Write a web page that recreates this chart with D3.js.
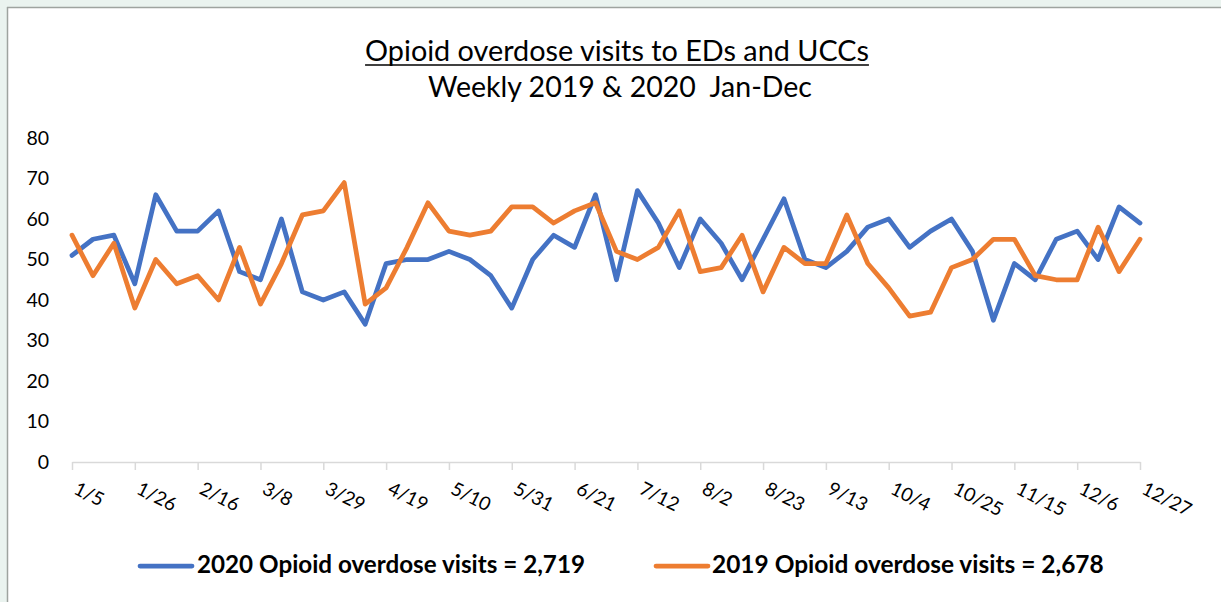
<!DOCTYPE html>
<html>
<head>
<meta charset="utf-8">
<script src="https://cdn.jsdelivr.net/npm/d3@7/dist/d3.min.js"></script>
<style>
  html, body { margin: 0; padding: 0; background: #eaf3ef; }
  svg { display: block; }
  text { font-family: Lato, "Open Sans", sans-serif; fill: #000; }
</style>
</head>
<body>
<svg id="chart" width="1221" height="602"></svg>
<script>
// ---- data ----
const weeks = ["1/5","1/12","1/19","1/26","2/2","2/9","2/16","2/23","3/1","3/8","3/15","3/22","3/29","4/5","4/12","4/19","4/26","5/3","5/10","5/17","5/24","5/31","6/7","6/14","6/21","6/28","7/5","7/12","7/19","7/26","8/2","8/9","8/16","8/23","8/30","9/6","9/13","9/20","9/27","10/4","10/11","10/18","10/25","11/1","11/8","11/15","11/22","11/29","12/6","12/13","12/20","12/27"];
const visits2020 = [51,55,56,44,66,57,57,62,47,45,60,42,40,42,34,49,50,50,52,50,46,38,50,56,53,66,45,67,59,48,60,54,45,55,65,50,48,52,58,60,53,57,60,52,35,49,45,55,57,50,63,59];
const visits2019 = [56,46,54,38,50,44,46,40,53,39,49,61,62,69,39,43,53,64,57,56,57,63,63,59,62,64,52,50,53,62,47,48,56,42,53,49,49,61,49,43,36,37,48,50,55,55,46,45,45,58,47,55];
const yTicks = [0,10,20,30,40,50,60,70,80];
const xTickLabels = weeks.filter((d, i) => i % 3 === 0);
const titleText = "Opioid overdose visits to EDs and UCCs";
const subtitleText = "Weekly 2019 & 2020  Jan-Dec";
const seriesNames = ["2020 Opioid overdose visits = 2,719", "2019 Opioid overdose visits = 2,678"];

// ---- layout ----
const svg = d3.select("#chart");
const W = 1221, H = 602;
const plot = { left: 72, right: 1140, top: 138, bottom: 462 };

// frame
svg.append("rect").attr("x", 8).attr("y", 8).attr("width", W).attr("height", H)
  .attr("fill", "#ffffff");
svg.append("line").attr("x1", 7.5).attr("x2", 7.5).attr("y1", 7).attr("y2", H)
  .attr("stroke", "#9ea39f").attr("stroke-width", 1.5);
svg.append("line").attr("x1", 7).attr("x2", W).attr("y1", 7.5).attr("y2", 7.5)
  .attr("stroke", "#9ea39f").attr("stroke-width", 1.5);

const x = d3.scalePoint().domain(weeks).range([plot.left, plot.right]);
const y = d3.scaleLinear().domain([0, 80]).range([plot.bottom, plot.top]);

function fit(sel, width) {
  const fs = parseFloat(sel.attr("font-size"));
  const w = sel.node().getComputedTextLength();
  sel.attr("font-size", (fs * width / w).toFixed(2));
}

// titles
const t1 = svg.append("text").attr("x", 617).attr("y", 61).attr("text-anchor", "middle")
  .attr("font-size", 26).text(titleText);
fit(t1, 504);
const tb = t1.node().getBBox();
svg.append("line").attr("x1", tb.x).attr("x2", tb.x + tb.width)
  .attr("y1", 65).attr("y2", 65).attr("stroke", "#000").attr("stroke-width", 1.6);
const t2 = svg.append("text").attr("x", 620).attr("y", 97).attr("text-anchor", "middle")
  .attr("font-size", 26).attr("xml:space", "preserve").style("white-space", "pre").text(subtitleText);
fit(t2, 384);

// y axis (labels only)
const yAxis = d3.axisLeft(y).tickValues(yTicks).tickSize(0).tickPadding(0);
const gy = svg.append("g").attr("transform", `translate(49,0)`).call(yAxis);
gy.select(".domain").remove();
gy.selectAll("text").attr("font-size", 19.5).attr("font-family", "Lato, 'Open Sans', sans-serif")
  .attr("fill", "#000");

// x axis
const xAxis = d3.axisBottom(x).tickValues(xTickLabels).tickSize(8).tickSizeOuter(0);
const gx = svg.append("g").attr("transform", `translate(0,${plot.bottom})`).call(xAxis);
gx.select(".domain").attr("stroke", "#d9d9d9").attr("stroke-width", 1.5);
gx.selectAll(".tick line").attr("stroke", "#d9d9d9").attr("stroke-width", 1.5);
gx.selectAll(".tick text")
  .attr("font-size", 19).attr("font-family", "Lato, 'Open Sans', sans-serif").attr("fill", "#000")
  .attr("text-anchor", "start").attr("x", 0).attr("y", 0).attr("dy", "0.35em")
  .attr("transform", "translate(3,25) rotate(27)");

// lines
const line = d3.line().x((d, i) => x(weeks[i])).y(d => y(d));
const series = [
  { values: visits2020, color: "#4472c4" },
  { values: visits2019, color: "#ed7d31" }
];
series.forEach(s => {
  svg.append("path").datum(s.values).attr("d", line)
    .attr("fill", "none").attr("stroke", s.color).attr("stroke-width", 4.75)
    .attr("stroke-linejoin", "round").attr("stroke-linecap", "round");
});

// legend
const legendItems = [
  { name: seriesNames[0], color: "#4472c4", x0: 140, tx: 197, w: 388 },
  { name: seriesNames[1], color: "#ed7d31", x0: 656, tx: 712, w: 392 }
];
legendItems.forEach(l => {
  svg.append("line").attr("x1", l.x0).attr("x2", l.x0 + 52).attr("y1", 566).attr("y2", 566)
    .attr("stroke", l.color).attr("stroke-width", 4.75).attr("stroke-linecap", "round");
  const t = svg.append("text").attr("x", l.tx).attr("y", 573).attr("font-size", 20)
    .attr("font-weight", "bold").text(l.name);
  fit(t, l.w);
});
</script>
</body>
</html>
